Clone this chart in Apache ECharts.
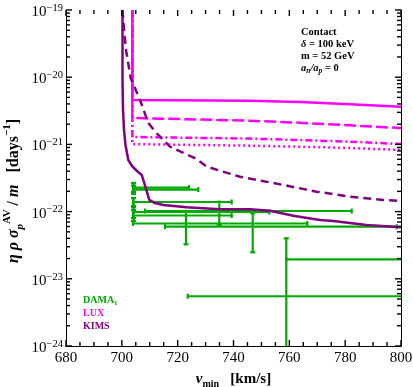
<!DOCTYPE html>
<html><head><meta charset="utf-8">
<script src="https://cdn.jsdelivr.net/npm/echarts@6/dist/echarts.min.js"></script>
<style>html,body{margin:0;padding:0;background:#fff}#c{width:413px;height:387px}</style>
</head><body><div id="c"></div>
<script>
const SERIF = "'Liberation Serif','DejaVu Serif',serif";
const xMin = 680, xMax = 800, xStep = 20, xMinorStep = 5;
const yMin = 1e-24, yMax = 1e-19;
const yTickExponents = [-24, -23, -22, -21, -20, -19];
const yMinorMultipliers = [2, 3, 4, 5, 6, 7, 8, 9];

// LUX limits (magenta)
const luxSolid = [[703.75,1e-19],[703.75,4.58e-21],[745.9,4.47e-21],[763.8,4.27e-21],[781.7,3.95e-21],[800,3.64e-21]];
const luxDashed = [[703.75,1e-19],[703.75,2.47e-21],[745.9,2.25e-21],[763.8,2.10e-21],[781.7,1.92e-21],[800,1.75e-21]];
const luxDashDot = [[703.75,1e-19],[703.75,1.29e-21],[745.9,1.22e-21],[763.8,1.16e-21],[781.7,1.10e-21],[800,1.01e-21]];
const luxDotted = [[703.75,1e-19],[703.75,1.01e-21],[745.9,9.57e-22],[763.8,9.25e-22],[781.7,8.83e-22],[800,8.26e-22]];

// KIMS limits (purple)
const kimsSolid = [[700.24,1e-19],[700.24,9.08e-21],[700.42,3.25e-21],[700.78,1.64e-21],[701.31,9.8e-22],[702.32,5.86e-22],[703.64,4.77e-22],[705.43,4.02e-22],[707.12,3.51e-22],[708.48,2.32e-22],[709.84,1.49e-22],[711.88,1.34e-22],[714.85,1.25e-22],[723.23,1.16e-22],[735.16,1.08e-22],[745.91,1.08e-22],[753.07,1.03e-22],[761.42,8.68e-23],[770.98,7.50e-23],[775.74,7.24e-23],[787.71,6.32e-23],[800,5.84e-23]];
const kimsDashed = [[700.24,1e-19],[700.78,5.04e-20],[701.49,2.54e-20],[703.18,9.64e-21],[706.51,4.58e-21],[709.48,2.08e-21],[712.49,1.46e-21],[717.25,9.25e-22],[726.82,6.06e-22],[730.40,4.66e-22],[742.33,3.30e-22],[754.15,2.67e-22],[769.80,1.98e-22],[781.73,1.67e-22],[793.55,1.49e-22],[800,1.44e-22]];

// DAMA1 points: [vCenter, etaCenter, vLow, vHigh, etaLow, etaHigh]
const damaPoints = [
  [704.18, 2.28e-22, 704.0, 724.06, 1.96e-22, 2.67e-22],
  [704.18, 2.13e-22, 704.0, 727.39, 1.83e-22, 2.44e-22],
  [704.18, 1.39e-22, 704.0, 739.35, 1.21e-22, 1.59e-22],
  [704.18, 9.86e-23, 704.0, 752.82, 8.03e-23, 1.17e-22],
  [704.18, 8.75e-23, 704.0, 739.35, 7.24e-23, 1.06e-22],
  [734.91, 1.02e-22, 708.3, 782.34, 6.32e-23, 1.40e-22],
  [722.98, 6.65e-23, 704.0, 766.43, 3.26e-23, 1.02e-22],
  [746.88, 5.96e-23, 715.46, 798.46, 2.48e-23, 9.43e-23],
  [830.0, 1.95e-23, 758.91, 900.0, 1.0e-23, 3.0e-23],
  [758.91, 5.50e-24, 723.6, 900.0, 1.0e-26, 4.01e-23]
];

// tick positions (axis decoration)
const xMajorTicks = [], xMinorTicks = [], yMajorTicks = [], yMinorTicks = [];
for (let v = xMin; v <= xMax; v += xMinorStep) ((v - xMin) % xStep === 0 ? xMajorTicks : xMinorTicks).push([v, yMin]);
yTickExponents.forEach(e => yMajorTicks.push([xMin, Math.pow(10, e)]));
yTickExponents.slice(0, -1).forEach(e => yMinorMultipliers.forEach(m => yMinorTicks.push([xMin, m * Math.pow(10, e)])));

const chart = echarts.init(document.getElementById('c'), null, {renderer: 'canvas'});
const axisLine = {show: true, lineStyle: {color: '#000', width: 1}};
const GREEN = '#00aa00', MAG = '#ff00ff', PURP = '#800080';

function damaRender(params, api) {
  const cs = params.coordSys;
  const L = cs.x, R = cs.x + cs.width, T = cs.y, B = cs.y + cs.height;
  const cl = (v, a, b) => Math.max(a, Math.min(b, v));
  const c = api.coord([api.value(0), api.value(1)]);
  const pl = api.coord([api.value(2), api.value(1)]);
  const pr = api.coord([api.value(3), api.value(1)]);
  const pb = api.coord([api.value(0), api.value(4)]);
  const pt = api.coord([api.value(0), api.value(5)]);
  const st = {stroke: GREEN, lineWidth: 2.2};
  const kids = [];
  const cap = 2.5;
  const y = c[1];
  if (y >= T && y <= B) {
    const x1 = cl(pl[0], L, R), x2 = cl(pr[0], L, R);
    if (x2 > x1) kids.push({type: 'line', shape: {x1, y1: y, x2, y2: y}, style: st});
    if (pl[0] >= L && pl[0] <= R) kids.push({type: 'line', shape: {x1: pl[0], y1: y - cap, x2: pl[0], y2: y + cap}, style: st});
    if (pr[0] >= L && pr[0] <= R) kids.push({type: 'line', shape: {x1: pr[0], y1: y - cap, x2: pr[0], y2: y + cap}, style: st});
  }
  const x = c[0];
  if (x >= L && x <= R) {
    const y1 = cl(pt[1], T, B), y2 = cl(pb[1], T, B);
    if (y2 > y1) kids.push({type: 'line', shape: {x1: x, y1, x2: x, y2}, style: st});
    if (pt[1] >= T && pt[1] <= B) kids.push({type: 'line', shape: {x1: x - cap, y1: pt[1], x2: x + cap, y2: pt[1]}, style: st});
    if (pb[1] >= T && pb[1] <= B) kids.push({type: 'line', shape: {x1: x - cap, y1: pb[1], x2: x + cap, y2: pb[1]}, style: st});
  }
  return {type: 'group', children: kids};
}

// frame ticks, drawn through the axis scales
function tickSeries(name, data, isX, len) {
  return {type: 'custom', name, data, z: 10, silent: true, encode: {x: 0, y: 1},
    renderItem: (params, api) => {
      const st = {stroke: '#000', lineWidth: 1.4};
      if (isX) {
        const v = api.value(0);
        const b = api.coord([v, yMin]), t = api.coord([v, yMax]);
        return {type: 'group', children: [
          {type: 'line', shape: {x1: b[0], y1: b[1], x2: b[0], y2: b[1] - len}, style: st},
          {type: 'line', shape: {x1: t[0], y1: t[1], x2: t[0], y2: t[1] + len}, style: st}
        ]};
      }
      const v = api.value(1);
      const l = api.coord([xMin, v]), r = api.coord([xMax, v]);
      return {type: 'group', children: [
        {type: 'line', shape: {x1: l[0], y1: l[1], x2: l[0] + len, y2: l[1]}, style: st},
        {type: 'line', shape: {x1: r[0], y1: r[1], x2: r[0] - len, y2: r[1]}, style: st}
      ]};
    }};
}

// y tick labels as real text placed via the y scale
function yLabelSeries() {
  return {type: 'custom', name: 'yLabels', data: yMajorTicks.slice(), z: 10, silent: true, encode: {x: 0, y: 1},
    renderItem: (params, api) => {
      const v = api.value(1);
      const p = api.coord([xMin, v]);
      return {type: 'text', x: p[0] - 3, y: p[1] + 1,
        style: {text: '{b|10}{s|\u2212' + Math.abs(Math.round(Math.log10(v))) + '}', align: 'right', verticalAlign: 'middle', fill: '#000',
          rich: {
            b: {fontFamily: SERIF, fontSize: 15, lineHeight: 17, verticalAlign: 'bottom', fill: '#000'},
            s: {fontFamily: SERIF, fontSize: 10.5, lineHeight: 10, verticalAlign: 'top', fill: '#000'}
          }}};
    }};
}

function lineSeries(name, data, color, type, w) {
  return {name, type: 'line', data, showSymbol: false, symbol: 'none', clip: true, animation: false,
    lineStyle: {color, width: w || 2.5, type: type || 'solid'}, z: 3};
}

const txt = (x, y, text, rich, fill, extra) => Object.assign({type: 'text', x, y, silent: true,
  style: Object.assign({text, rich, fill, align: 'left', verticalAlign: 'middle', fontFamily: SERIF, fontWeight: 'bold', fontSize: 10.5}, extra || {})});

const annRich = {
  b: {fontFamily: SERIF, fontWeight: 'bold', fontSize: 10.5, lineHeight: 14},
  i: {fontFamily: SERIF, fontWeight: 'bold', fontStyle: 'italic', fontSize: 10.5, lineHeight: 14},
  sub: {fontFamily: SERIF, fontWeight: 'bold', fontStyle: 'italic', fontSize: 7.5, lineHeight: 8, verticalAlign: 'bottom'}
};
const legRich = {
  b: {fontFamily: SERIF, fontWeight: 'bold', fontSize: 10, lineHeight: 14, fill: GREEN},
  sub: {fontFamily: SERIF, fontWeight: 'bold', fontSize: 7, lineHeight: 8, verticalAlign: 'bottom', fill: GREEN}
};
const titleRich = {
  i: {fontFamily: SERIF, fontWeight: 'bold', fontStyle: 'italic', fontSize: 16, lineHeight: 24},
  b: {fontFamily: SERIF, fontWeight: 'bold', fontSize: 16, lineHeight: 24},
  sub: {fontFamily: SERIF, fontWeight: 'bold', fontStyle: 'italic', fontSize: 11, lineHeight: 11, verticalAlign: 'bottom'},
  sup: {fontFamily: SERIF, fontWeight: 'bold', fontSize: 11, lineHeight: 11, verticalAlign: 'top'}
};

chart.setOption({
  animation: false,
  backgroundColor: '#fff',
  grid: {left: 66, right: 12, top: 10, bottom: 41, show: false, containLabel: false, outerBoundsMode: 'none'},
  xAxis: [{
    type: 'value', min: xMin, max: xMax, interval: xStep, position: 'bottom',
    axisLine, splitLine: {show: false}, axisTick: {show: false}, minorTick: {show: false},
    axisLabel: {fontFamily: SERIF, fontSize: 15, color: '#000', margin: 5, showMinLabel: true, showMaxLabel: true},
    name: '{i|v}{sub|min}{b|   [km/s]}', nameLocation: 'middle', nameGap: 23,
    nameTextStyle: {color: '#000', rich: {
      i: {fontFamily: SERIF, fontWeight: 'bold', fontStyle: 'italic', fontSize: 15, lineHeight: 20},
      b: {fontFamily: SERIF, fontWeight: 'bold', fontSize: 15, lineHeight: 20},
      sub: {fontFamily: SERIF, fontWeight: 'bold', fontSize: 10, lineHeight: 10, verticalAlign: 'bottom'}
    }}
  }, {
    type: 'value', min: xMin, max: xMax, interval: xStep, position: 'top',
    axisLine, splitLine: {show: false}, axisTick: {show: false}, minorTick: {show: false}, axisLabel: {show: false}
  }],
  yAxis: [{
    type: 'log', logBase: 10, min: yMin, max: yMax, position: 'left',
    axisLine, splitLine: {show: false}, axisTick: {show: false}, minorTick: {show: false}, axisLabel: {show: false}
  }, {
    type: 'log', logBase: 10, min: yMin, max: yMax, position: 'right',
    axisLine, splitLine: {show: false}, axisTick: {show: false}, minorTick: {show: false}, axisLabel: {show: false}
  }],
  series: [
    {type: 'custom', name: 'DAMA1', data: damaPoints, renderItem: damaRender, encode: {x: [0, 2, 3], y: [1, 4, 5]}, silent: true, z: 2},
    lineSeries('LUX', luxSolid, MAG, 'solid'),
    lineSeries('LUX dashed', luxDashed, MAG, [12, 4]),
    lineSeries('LUX dash-dot', luxDashDot, MAG, [7, 3, 2, 3]),
    lineSeries('LUX dotted', luxDotted, MAG, [2, 3]),
    lineSeries('KIMS', kimsSolid, PURP, 'solid'),
    lineSeries('KIMS dashed', kimsDashed, PURP, [8, 5]),
    tickSeries('xMajor', xMajorTicks, true, 6),
    tickSeries('xMinor', xMinorTicks, true, 4),
    tickSeries('yMajor', yMajorTicks, false, 6),
    tickSeries('yMinor', yMinorTicks, false, 4),
    yLabelSeries()
  ],
  graphic: [
    {type: 'text', x: 14, y: 191, rotation: Math.PI / 2, silent: true,
      style: {text: '{i|\u03b7 \u03c1 \u03c3}{sub|p}{sup|AV}{b| / }{i|m}{b|   [days}{sup|\u22121}{b|]}', rich: titleRich, fill: '#000', align: 'center', verticalAlign: 'middle'}},
    txt(301, 32, 'Contact', null, '#000'),
    txt(301, 44, '{i|\u03b4}{b| = 100 keV}', annRich, '#000'),
    txt(301, 56, 'm = 52 GeV', null, '#000'),
    txt(301, 68, '{i|a}{sub|n}{i|/a}{sub|p}{b| = 0}', annRich, '#000'),
    txt(83, 300, '{b|DAMA}{sub|1}', legRich, GREEN),
    txt(83, 313, 'LUX', null, MAG, {fontSize: 10}),
    txt(83, 326, 'KIMS', null, PURP, {fontSize: 10})
  ]
});
</script></body></html>
